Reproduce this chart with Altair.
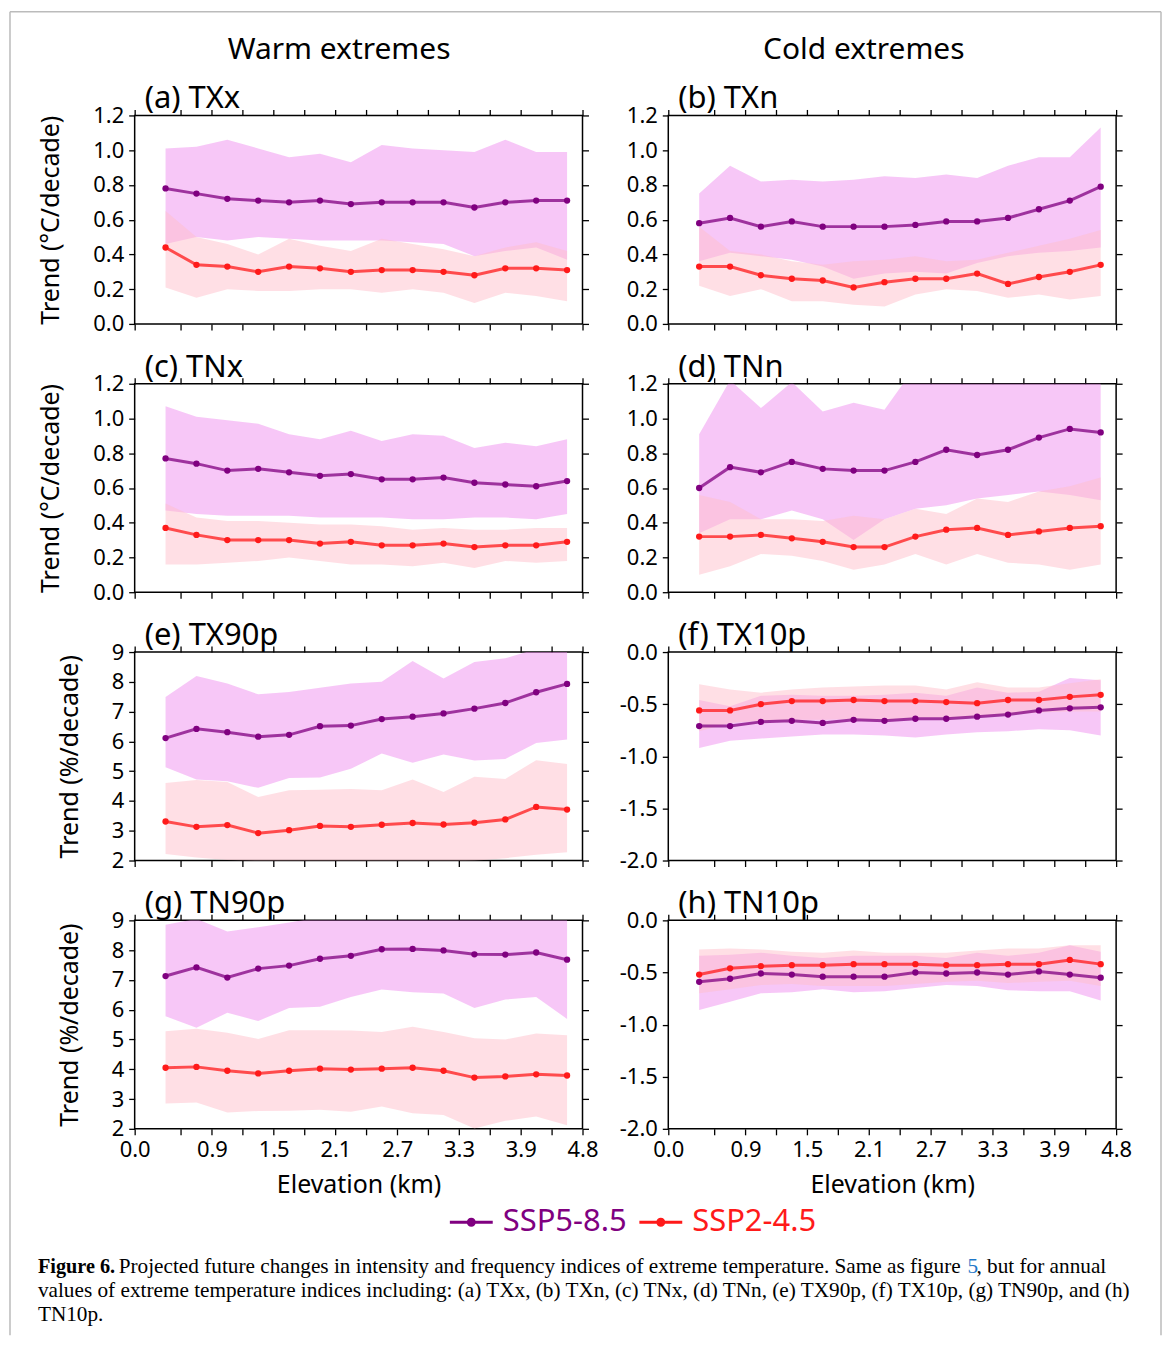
import altair as alt
import pandas as pd

# ---------------- data ----------------
bin_index = list(range(1, 15))
x_tick_pos = [0, 1.5, 2.5, 3.5, 4.5, 5.5, 6.5, 7.5, 8.5, 9.5, 10.5, 11.5, 12.5, 13.5, 14.5]
x_label_pos = [0, 2.5, 4.5, 6.5, 8.5, 10.5, 12.5, 14.5]
x_labels = ["0.0", "0.9", "1.5", "2.1", "2.7", "3.3", "3.9", "4.8"]
series_names = ["SSP5-8.5", "SSP2-4.5"]

# (a) TXx
txx_585_mean = [0.78, 0.75, 0.72, 0.71, 0.70, 0.71, 0.69, 0.70, 0.70, 0.70, 0.67, 0.70, 0.71, 0.71]
txx_585_hi = [1.01, 1.02, 1.06, 1.01, 0.96, 0.98, 0.93, 1.03, 1.01, 1.00, 0.99, 1.06, 0.99, 0.99]
txx_585_lo = [0.46, 0.50, 0.48, 0.50, 0.49, 0.48, 0.48, 0.48, 0.47, 0.46, 0.39, 0.42, 0.44, 0.37]
txx_245_mean = [0.44, 0.34, 0.33, 0.30, 0.33, 0.32, 0.30, 0.31, 0.31, 0.30, 0.28, 0.32, 0.32, 0.31]
txx_245_hi = [0.65, 0.50, 0.46, 0.40, 0.49, 0.45, 0.42, 0.49, 0.46, 0.43, 0.39, 0.44, 0.47, 0.42]
txx_245_lo = [0.21, 0.15, 0.20, 0.19, 0.19, 0.20, 0.20, 0.18, 0.20, 0.18, 0.12, 0.18, 0.16, 0.13]

# (b) TXn
txn_585_mean = [0.58, 0.61, 0.56, 0.59, 0.56, 0.56, 0.56, 0.57, 0.59, 0.59, 0.61, 0.66, 0.71, 0.79]
txn_585_hi = [0.75, 0.91, 0.82, 0.83, 0.82, 0.83, 0.85, 0.84, 0.86, 0.84, 0.91, 0.96, 0.96, 1.13]
txn_585_lo = [0.36, 0.41, 0.39, 0.37, 0.33, 0.26, 0.29, 0.30, 0.29, 0.35, 0.39, 0.41, 0.42, 0.44]
txn_245_mean = [0.33, 0.33, 0.28, 0.26, 0.25, 0.21, 0.24, 0.26, 0.26, 0.29, 0.23, 0.27, 0.30, 0.34]
txn_245_hi = [0.56, 0.42, 0.40, 0.36, 0.34, 0.36, 0.37, 0.39, 0.36, 0.37, 0.41, 0.45, 0.49, 0.54]
txn_245_lo = [0.22, 0.16, 0.20, 0.13, 0.13, 0.11, 0.10, 0.17, 0.20, 0.19, 0.15, 0.17, 0.14, 0.16]

# (c) TNx
tnx_585_mean = [0.77, 0.74, 0.70, 0.71, 0.69, 0.67, 0.68, 0.65, 0.65, 0.66, 0.63, 0.62, 0.61, 0.64]
tnx_585_hi = [1.07, 1.01, 0.99, 0.97, 0.91, 0.88, 0.93, 0.87, 0.91, 0.90, 0.83, 0.86, 0.84, 0.88]
tnx_585_lo = [0.47, 0.45, 0.44, 0.44, 0.44, 0.43, 0.43, 0.43, 0.42, 0.42, 0.43, 0.43, 0.42, 0.45]
tnx_245_mean = [0.37, 0.33, 0.30, 0.30, 0.30, 0.28, 0.29, 0.27, 0.27, 0.28, 0.26, 0.27, 0.27, 0.29]
tnx_245_hi = [0.51, 0.43, 0.41, 0.41, 0.40, 0.39, 0.39, 0.38, 0.36, 0.37, 0.36, 0.36, 0.37, 0.37]
tnx_245_lo = [0.16, 0.16, 0.17, 0.18, 0.20, 0.18, 0.16, 0.16, 0.15, 0.17, 0.14, 0.18, 0.17, 0.18]

# (d) TNn
tnn_585_mean = [0.60, 0.72, 0.69, 0.75, 0.71, 0.70, 0.70, 0.75, 0.82, 0.79, 0.82, 0.89, 0.94, 0.92]
tnn_585_hi = [0.91, 1.22, 1.06, 1.21, 1.04, 1.09, 1.05, 1.30, 1.30, 1.30, 1.30, 1.30, 1.30, 1.30]
tnn_585_lo = [0.34, 0.42, 0.42, 0.47, 0.42, 0.30, 0.42, 0.48, 0.50, 0.54, 0.56, 0.58, 0.56, 0.53]
tnn_245_mean = [0.32, 0.32, 0.33, 0.31, 0.29, 0.26, 0.26, 0.32, 0.36, 0.37, 0.33, 0.35, 0.37, 0.38]
tnn_245_hi = [0.56, 0.52, 0.42, 0.42, 0.41, 0.44, 0.42, 0.48, 0.45, 0.54, 0.52, 0.58, 0.61, 0.66]
tnn_245_lo = [0.10, 0.15, 0.22, 0.21, 0.18, 0.13, 0.16, 0.22, 0.16, 0.22, 0.17, 0.16, 0.13, 0.16]

# (e) TX90p
tx90_585_mean = [6.11, 6.42, 6.31, 6.16, 6.22, 6.51, 6.53, 6.75, 6.83, 6.94, 7.10, 7.29, 7.65, 7.93]
tx90_585_hi = [7.49, 8.20, 7.94, 7.58, 7.66, 7.80, 7.94, 8.00, 8.70, 8.11, 8.67, 8.79, 9.10, 9.10]
tx90_585_lo = [5.13, 4.72, 4.66, 4.44, 4.77, 4.79, 5.08, 5.59, 5.28, 5.56, 5.36, 5.41, 5.95, 6.06]
tx90_245_mean = [3.31, 3.13, 3.19, 2.92, 3.02, 3.16, 3.13, 3.20, 3.26, 3.21, 3.27, 3.38, 3.80, 3.71]
tx90_245_hi = [4.60, 4.70, 4.64, 4.13, 4.36, 4.38, 4.40, 4.36, 4.72, 4.30, 4.81, 4.74, 5.37, 5.24]
tx90_245_lo = [2.22, 2.10, 2.02, 1.98, 1.97, 1.97, 1.97, 1.98, 1.98, 1.97, 1.99, 2.08, 2.19, 2.28]

# (f) TX10p
tx10_585_mean = [-0.71, -0.71, -0.67, -0.66, -0.68, -0.65, -0.66, -0.64, -0.64, -0.62, -0.60, -0.56, -0.54, -0.53]
tx10_585_hi = [-0.46, -0.52, -0.42, -0.41, -0.42, -0.42, -0.41, -0.39, -0.42, -0.34, -0.39, -0.38, -0.25, -0.27]
tx10_585_lo = [-0.92, -0.85, -0.83, -0.81, -0.79, -0.79, -0.80, -0.82, -0.79, -0.77, -0.76, -0.74, -0.75, -0.80]
tx10_245_mean = [-0.56, -0.56, -0.50, -0.47, -0.47, -0.46, -0.47, -0.47, -0.48, -0.49, -0.46, -0.46, -0.43, -0.41]
tx10_245_hi = [-0.31, -0.36, -0.39, -0.36, -0.34, -0.33, -0.32, -0.32, -0.36, -0.29, -0.34, -0.34, -0.30, -0.26]
tx10_245_lo = [-0.76, -0.68, -0.66, -0.65, -0.65, -0.64, -0.65, -0.63, -0.63, -0.62, -0.60, -0.58, -0.57, -0.57]

# (g) TN90p
tn90_585_mean = [7.13, 7.42, 7.08, 7.38, 7.48, 7.71, 7.81, 8.03, 8.04, 7.99, 7.86, 7.85, 7.92, 7.68]
tn90_585_hi = [8.85, 9.05, 8.63, 8.77, 8.93, 9.10, 9.10, 9.10, 9.10, 9.10, 9.10, 9.10, 9.10, 9.10]
tn90_585_lo = [5.78, 5.39, 5.90, 5.62, 6.06, 6.10, 6.43, 6.68, 6.59, 6.54, 6.06, 6.34, 6.43, 5.69]
tn90_245_mean = [4.05, 4.08, 3.95, 3.86, 3.95, 4.02, 3.99, 4.02, 4.05, 3.95, 3.72, 3.76, 3.83, 3.79]
tn90_245_hi = [5.28, 5.36, 5.23, 5.02, 5.31, 5.31, 5.30, 5.25, 5.43, 5.25, 5.04, 5.00, 5.20, 5.14]
tn90_245_lo = [2.85, 2.88, 2.55, 2.60, 2.61, 2.64, 2.57, 2.75, 2.52, 2.46, 2.01, 2.27, 2.41, 2.12]

# (h) TN10p
tn10_585_mean = [-0.59, -0.56, -0.51, -0.52, -0.54, -0.54, -0.54, -0.50, -0.51, -0.50, -0.52, -0.49, -0.52, -0.55]
tn10_585_hi = [-0.34, -0.33, -0.31, -0.34, -0.36, -0.34, -0.34, -0.34, -0.36, -0.31, -0.34, -0.31, -0.24, -0.30]
tn10_585_lo = [-0.86, -0.78, -0.70, -0.69, -0.66, -0.69, -0.68, -0.65, -0.62, -0.63, -0.67, -0.68, -0.68, -0.77]
tn10_245_mean = [-0.52, -0.46, -0.44, -0.43, -0.43, -0.42, -0.42, -0.42, -0.43, -0.43, -0.42, -0.42, -0.38, -0.42]
tn10_245_hi = [-0.28, -0.27, -0.28, -0.30, -0.31, -0.29, -0.31, -0.31, -0.31, -0.29, -0.27, -0.27, -0.24, -0.24]
tn10_245_lo = [-0.70, -0.66, -0.62, -0.61, -0.63, -0.63, -0.63, -0.61, -0.59, -0.58, -0.60, -0.59, -0.58, -0.63]

y_ticks_degc = [0.0, 0.2, 0.4, 0.6, 0.8, 1.0, 1.2]
y_ticks_pct = [2, 3, 4, 5, 6, 7, 8, 9]
y_ticks_neg = [-2.0, -1.5, -1.0, -0.5, 0.0]

panel_titles = ["(a) TXx", "(b) TXn", "(c) TNx", "(d) TNn",
                "(e) TX90p", "(f) TX10p", "(g) TN90p", "(h) TN10p"]
column_titles = ["Warm extremes", "Cold extremes"]
y_titles = ["Trend (°C/decade)", "Trend (%/decade)"]
x_title = "Elevation (km)"
caption_bold = "Figure 6."
caption_l1a = "Projected future changes in intensity and frequency indices of extreme temperature. Same as figure"
caption_ref = "5"
caption_l1b = ", but for annual"
caption_l2 = "values of extreme temperature indices including: (a) TXx, (b) TXn, (c) TNx, (d) TNn, (e) TX90p, (f) TX10p, (g) TN90p, and (h)"
caption_l3 = "TN10p."

# ---------------- styling ----------------
W, H = 449, 209
FONT = "Noto Sans"
C585, C245 = "#800080", "#FF1A1A"
BAND585, BAND245 = "#EE82EE", "#FFC0CB"

color_scale = alt.Scale(domain=series_names, range=[C585, C245])
x_scale = alt.Scale(domain=[0, 14.5], nice=False, zero=False)

x_label_expr = " : ".join(
    f"datum.value == {p} ? '{l}'" for p, l in zip(x_label_pos, x_labels)
) + " : ''"

LEG_PATH = ("M-1,-0.07L1,-0.07L1,0.07L-1,0.07Z "
            "M0.21,0A0.21,0.21,0,1,1,-0.21,0A0.21,0.21,0,1,1,0.21,0Z")
legend = alt.Legend(
    title=None, orient="none", legendX=316, legendY=1088, direction="horizontal",
    symbolType=LEG_PATH, symbolSize=1849, symbolStrokeWidth=0, symbolOpacity=1,
    labelFont=FONT, labelFontSize=31, labelOffset=10, columnPadding=12, padding=0,
    labelColor=alt.ExprRef(expr=f"datum.label == '{series_names[0]}' ? '{C585}' : '{C245}'"),
)


def make_df(m585, lo585, hi585, m245, lo245, hi245):
    rows = []
    for s, m, lo, hi in [(series_names[0], m585, lo585, hi585),
                         (series_names[1], m245, lo245, hi245)]:
        for i, a, b, c in zip(bin_index, m, lo, hi):
            rows.append({"pos": i, "series": s, "mean": a, "lo": b, "hi": c})
    return pd.DataFrame(rows)


def text_layer(txt, x, y, size, align="left", font=FONT, weight="normal", color="black"):
    return alt.Chart(pd.DataFrame({"t": [txt]})).mark_text(
        align=align, baseline="alphabetic", font=font, fontSize=size,
        fontWeight=weight, color=color
    ).encode(text="t:N", x=alt.value(x), y=alt.value(y))


def panel(idx, df, ydom, yticks, dec, col, row):
    ysc = alt.Scale(domain=ydom, nice=False, zero=False)
    if dec:
        lab = "datum.value < 0 ? '-' + format(-datum.value, '.1f') : format(datum.value, '.1f')"
    else:
        lab = "format(datum.value, 'd')"
    left_axis = alt.Axis(orient="left", values=yticks, labelExpr=lab,
                         title=(y_titles[0] if row < 2 else y_titles[1]) if col == 0 else None)
    right_axis = alt.Axis(orient="right", values=yticks, labels=False, title=None)
    if row == 3:
        bottom_axis = alt.Axis(orient="bottom", values=x_tick_pos, labelExpr=x_label_expr,
                               title=x_title, labelFlush=False, labelOverlap=False,
                               titlePadding=12)
    else:
        bottom_axis = alt.Axis(orient="bottom", values=x_tick_pos, labels=False, title=None)
    top_axis = alt.Axis(orient="top", values=x_tick_pos, labels=False, title=None)

    base = alt.Chart(df)
    s585 = base.transform_filter(alt.datum.series == series_names[0])
    s245 = base.transform_filter(alt.datum.series == series_names[1])
    a585 = s585.mark_area(color=BAND585, opacity=0.45, clip=True).encode(
        x=alt.X("pos:Q", scale=x_scale, axis=bottom_axis),
        y=alt.Y("lo:Q", scale=ysc, axis=left_axis),
        y2="hi:Q",
    )
    a245 = s245.mark_area(color=BAND245, opacity=0.5, clip=True).encode(
        x=alt.X("pos:Q", scale=x_scale, axis=top_axis),
        y=alt.Y("lo:Q", scale=ysc, axis=right_axis),
        y2="hi:Q",
    )
    enc_mean = dict(x=alt.X("pos:Q", scale=x_scale, axis=None),
                    y=alt.Y("mean:Q", scale=ysc, axis=None))
    l585 = s585.mark_line(color=C585, strokeWidth=3, opacity=0.75).encode(**enc_mean)
    l245 = s245.mark_line(color=C245, strokeWidth=3, opacity=0.75).encode(**enc_mean)
    pts = base.mark_point(filled=True, size=40, opacity=1).encode(
        color=alt.Color("series:N", scale=color_scale, legend=legend), **enc_mean
    )
    layers = [a585, a245, l585, l245, pts, text_layer(panel_titles[idx], 10, -7, 31)]
    if row == 0:
        layers.append(text_layer(column_titles[col], 205 if col == 0 else 196, -57, 30, align="center"))
    if idx == 0:
        frame = alt.Chart(pd.DataFrame({"k": [0]}))
        fs = dict(color="#BBBBBB", strokeWidth=1.5)
        layers.append(frame.mark_rule(**fs).encode(x=alt.value(-125), y=alt.value(-104), y2=alt.value(1223)))
        layers.append(frame.mark_rule(**fs).encode(x=alt.value(1029), y=alt.value(-104), y2=alt.value(1223)))
        layers.append(frame.mark_rule(**fs).encode(x=alt.value(-125), x2=alt.value(1029), y=alt.value(-104)))
        serif = "Liberation Serif"
        cs = 21.3
        layers.append(text_layer(caption_bold, -97, 1161, 20.3, font=serif, weight="bold"))
        layers.append(text_layer(caption_l1a, -16, 1161, cs, font=serif))
        layers.append(text_layer(caption_ref, 835, 1161, cs, font=serif, color="#1F77C8"))
        layers.append(text_layer(caption_l1b, 844, 1161, cs, font=serif))
        layers.append(text_layer(caption_l2, -97, 1185, cs, font=serif))
        layers.append(text_layer(caption_l3, -97, 1209, cs, font=serif))
    return alt.layer(*layers).resolve_axis(x="independent", y="independent").properties(width=W, height=H)


specs = [
    (make_df(txx_585_mean, txx_585_lo, txx_585_hi, txx_245_mean, txx_245_lo, txx_245_hi), [0, 1.2], y_ticks_degc, True),
    (make_df(txn_585_mean, txn_585_lo, txn_585_hi, txn_245_mean, txn_245_lo, txn_245_hi), [0, 1.2], y_ticks_degc, True),
    (make_df(tnx_585_mean, tnx_585_lo, tnx_585_hi, tnx_245_mean, tnx_245_lo, tnx_245_hi), [0, 1.2], y_ticks_degc, True),
    (make_df(tnn_585_mean, tnn_585_lo, tnn_585_hi, tnn_245_mean, tnn_245_lo, tnn_245_hi), [0, 1.2], y_ticks_degc, True),
    (make_df(tx90_585_mean, tx90_585_lo, tx90_585_hi, tx90_245_mean, tx90_245_lo, tx90_245_hi), [2, 9], y_ticks_pct, False),
    (make_df(tx10_585_mean, tx10_585_lo, tx10_585_hi, tx10_245_mean, tx10_245_lo, tx10_245_hi), [-2, 0], y_ticks_neg, True),
    (make_df(tn90_585_mean, tn90_585_lo, tn90_585_hi, tn90_245_mean, tn90_245_lo, tn90_245_hi), [2, 9], y_ticks_pct, False),
    (make_df(tn10_585_mean, tn10_585_lo, tn10_585_hi, tn10_245_mean, tn10_245_lo, tn10_245_hi), [-2, 0], y_ticks_neg, True),
]

panels = [panel(i, df, yd, yt, dec, i % 2, i // 2) for i, (df, yd, yt, dec) in enumerate(specs)]

chart = alt.concat(
    *panels, columns=2, spacing=alt.RowColnumber(row=60, column=86), bounds="flush"
).resolve_scale(
    color="shared"
).resolve_legend(
    color="shared"
).properties(
    padding=0, background="white"
).configure_view(
    stroke="black", strokeWidth=1.5
).configure_axis(
    domain=False, grid=False, ticks=True, tickColor="black", tickWidth=1.3, tickSize=6,
    labelFont=FONT, labelFontSize=22, labelColor="black", labelPadding=5,
    titleFont=FONT, titleFontSize=25, titleFontWeight="normal", titleColor="black",
    titlePadding=29,
)

chart.save("out.html", embed_options={"renderer": "svg", "actions": False})
